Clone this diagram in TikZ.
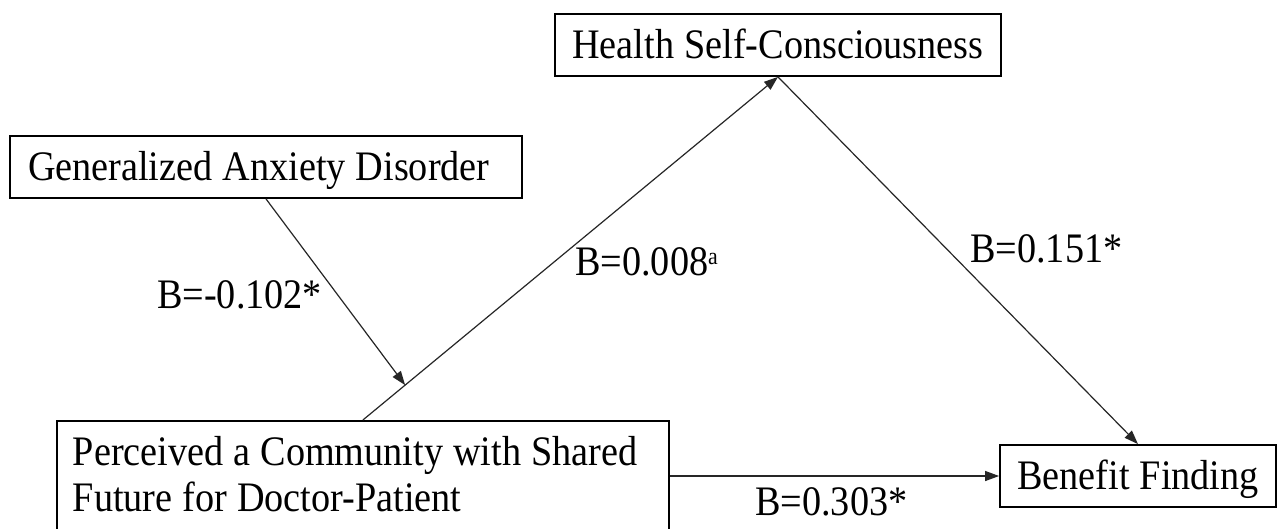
\documentclass[tikz,border=0pt]{standalone}
\usepackage{fontspec}
\setmainfont{Liberation Serif}[FakeStretch=0.91,WordSpace=1.05]
\usetikzlibrary{arrows.meta}
\begin{document}
\begin{tikzpicture}[x=1pt,y=-1pt,
  every node/.style={font=\fontsize{42}{46}\selectfont},
  box/.style={draw=black,line width=1.8pt,rectangle,minimum height=62pt,text height=27pt,text depth=0pt,inner sep=0pt},
  conn/.style={draw=black!85,line width=1.2pt},
  arr/.style={conn,-{Triangle[length=14pt,width=10pt]}},
  lbl/.style={anchor=base west,inner sep=0pt}]
\useasboundingbox (0,0) rectangle (1277,528);
\fill[white] (0,0) rectangle (1277,528);
% boxes
\node[box,minimum width=446pt] (hsc) at (778,45) {Health Self-Consciousness};
\node[box,minimum width=512pt,text width=476pt,inner xsep=18pt,align=flush left] (gad) at (266,167) {Generalized Anxiety Disorder};
\node[box,anchor=north west,text height=,text depth=,inner xsep=16pt,inner ysep=15.3pt,text width=580pt,align=flush left] (pcs) at (56,420)
  {Perceived a Community with Shared\\Future for Doctor-Patient\rule[-14pt]{0pt}{0pt}};
\node[box,minimum width=276pt] (bf) at (1138,476) {Benefit Finding};
% connectors
\draw[arr] (pcs.north) -- coordinate[pos=0.1017] (mod) (hsc.south);
\draw[arr] (gad.south) -- (mod);
\draw[arr] (hsc.south) -- (bf.north);
\draw[arr] (pcs.east |- bf.west) -- (bf.west);
% labels
\node[lbl] (l1) at (157,308) {B=-0.102*};
\node[lbl] (l2) at (575,275) {B=0.008{\fontsize{24}{24}\selectfont\raisebox{11pt}{a}}};
\node[lbl] (l3) at (970,262) {B=0.151*};
\node[lbl] (l4) at (755,515) {B=0.303*};
\end{tikzpicture}
\end{document}
